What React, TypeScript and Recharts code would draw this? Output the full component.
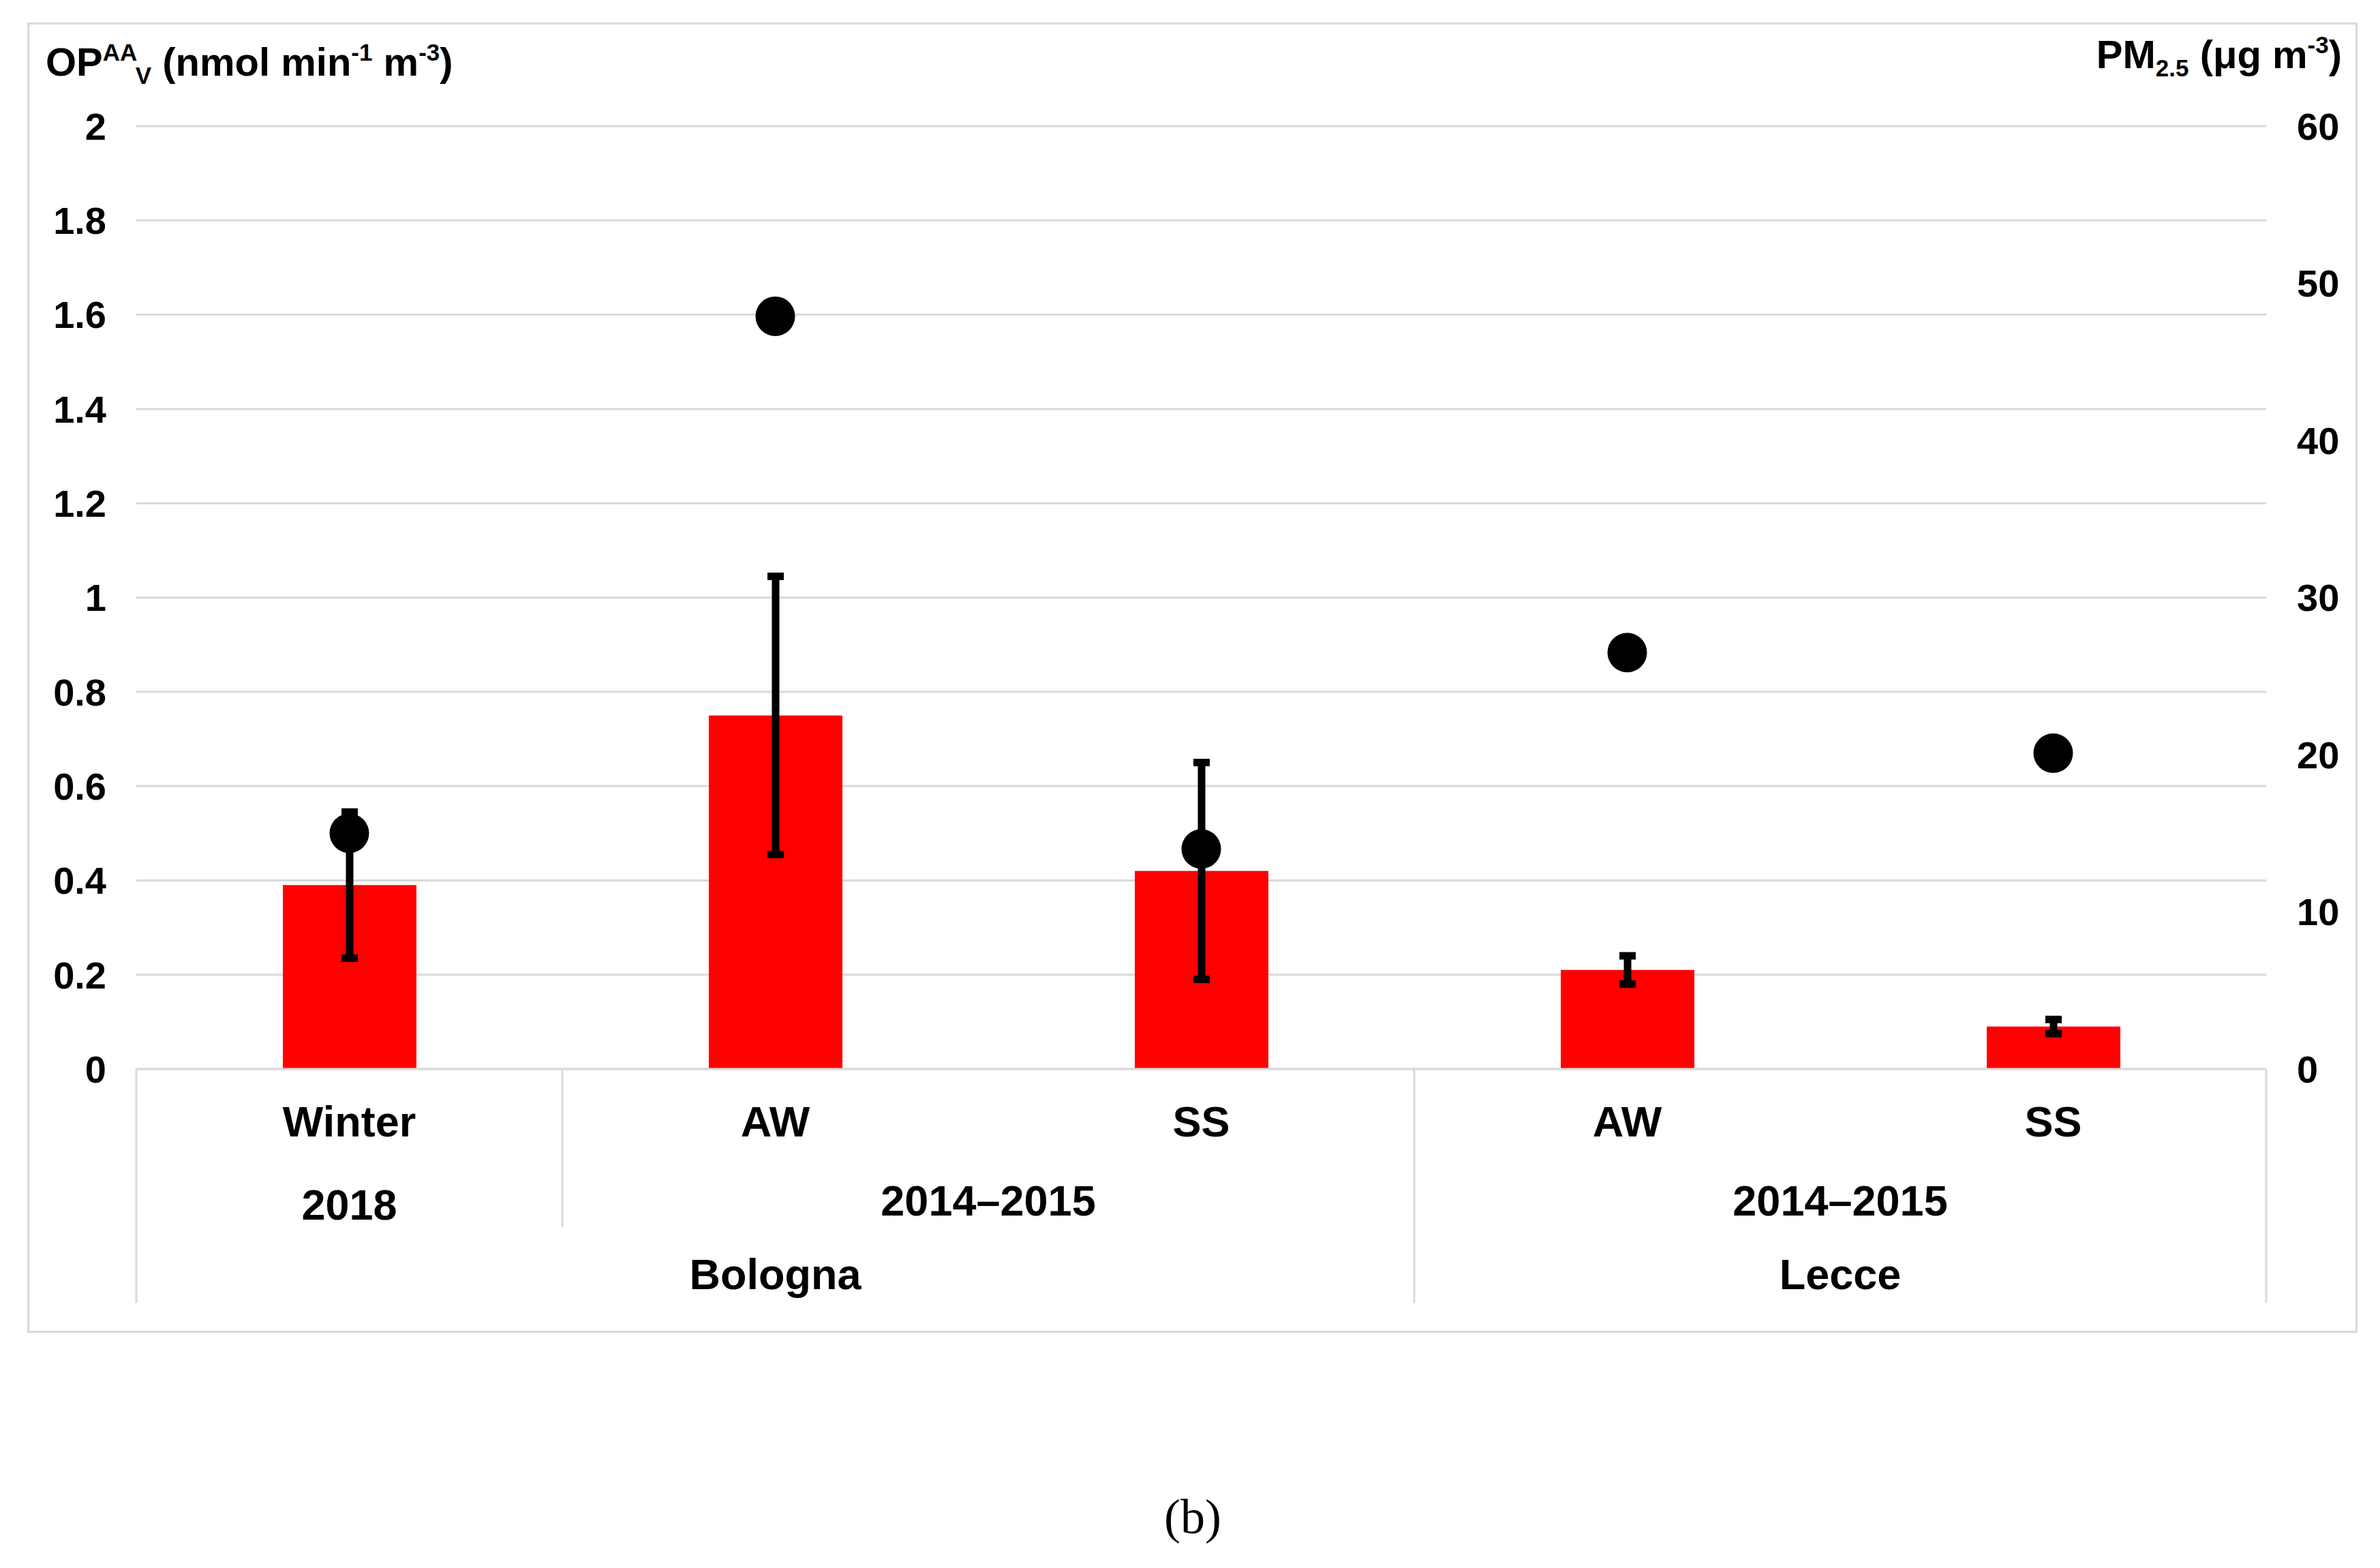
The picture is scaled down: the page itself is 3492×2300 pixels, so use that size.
import React from 'react';
import { ComposedChart, Bar, Line, ErrorBar, XAxis, YAxis, CartesianGrid } from 'recharts';

const seasons = ['Winter', 'AW', 'SS', 'AW', 'SS'];
const periods = ['2018', '2014–2015', '2014–2015', '2014–2015', '2014–2015'];
const cities = ['Bologna', 'Bologna', 'Bologna', 'Lecce', 'Lecce'];
const opMean = [0.39, 0.75, 0.42, 0.21, 0.09];
const opSd = [0.155, 0.295, 0.23, 0.03, 0.015];
const pm25 = [15.0, 47.9, 14.0, 26.5, 20.1];
const leftTicks = [0, 0.2, 0.4, 0.6, 0.8, 1, 1.2, 1.4, 1.6, 1.8, 2];
const rightTicks = [0, 10, 20, 30, 40, 50, 60];

const data = seasons.map((s, i) => ({
    season: s,
    period: periods[i],
    city: cities[i],
    op: opMean[i],
    opErr: opSd[i],
    pm: pm25[i],
}));

const W = 3492;
const H = 2300;
const MARGIN = { top: 185, right: 17, bottom: 382, left: 50 };
const Y_AXIS_W = 150;
const X_AXIS_H = 350;
const PLOT_W = W - MARGIN.left - MARGIN.right - 2 * Y_AXIS_W;
const BAND = PLOT_W / seasons.length;

const FONT = '"Liberation Sans", Arial, Helvetica, sans-serif';
const GRID = '#d9d9d9';

const groupSpan = (keys: string[], i: number) => {
    let n = 1;
    while (i + n < keys.length && keys[i + n] === keys[i]) n++;
    return n;
};

const periodKeys = cities.map((c, i) => c + '|' + periods[i]);

const MultiTick = (props: any) => {
    const { x, y, index } = props;
    const i = index;
    const left = x - BAND / 2;
    const right = x + BAND / 2;
    const textProps = { fontFamily: FONT, fontWeight: 700, fontSize: 63, fill: '#000', textAnchor: 'middle' as const };
    const items: React.ReactNode[] = [];

    items.push(<text key="s" x={x} y={y + 99} {...textProps}>{seasons[i]}</text>);

    const newPeriod = i === 0 || periodKeys[i] !== periodKeys[i - 1];
    if (newPeriod) {
        const span = groupSpan(periodKeys, i);
        const dy = span === 1 ? 221 : 215;
        items.push(
            <text key="p" x={x + ((span - 1) * BAND) / 2} y={y + dy} {...textProps}>{periods[i]}</text>
        );
    }
    const newCity = i === 0 || cities[i] !== cities[i - 1];
    if (newCity) {
        const span = groupSpan(cities, i);
        items.push(
            <text key="c" x={x + ((span - 1) * BAND) / 2} y={y + 323} {...textProps}>{cities[i]}</text>
        );
    }
    if (newCity) {
        items.push(<line key="l" x1={left} x2={left} y1={y} y2={y + 343} stroke={GRID} strokeWidth={3} />);
    } else if (newPeriod) {
        items.push(<line key="l" x1={left} x2={left} y1={y} y2={y + 232} stroke={GRID} strokeWidth={3} />);
    }
    if (i === seasons.length - 1) {
        items.push(<line key="r" x1={right} x2={right} y1={y} y2={y + 343} stroke={GRID} strokeWidth={3} />);
    }
    return <g>{items}</g>;
};

const tickStyle = { fontSize: 56, fontWeight: 700, fill: '#000', fontFamily: FONT };

export default function App() {
    return (
        <div style={{ position: 'relative', width: W, height: H, background: '#fff' }}>
            <style>{`body{margin:0;}`}</style>
            <div
                style={{
                    position: 'absolute',
                    left: 40,
                    top: 33,
                    width: 3419,
                    height: 1922,
                    border: `3px solid ${GRID}`,
                    boxSizing: 'border-box',
                }}
            />
            <div style={{ position: 'absolute', left: 0, top: 0 }}>
                <ComposedChart width={W} height={H} data={data} margin={MARGIN} style={{ fontFamily: FONT }}>
                    <CartesianGrid yAxisId="left" vertical={false} stroke={GRID} strokeWidth={3} />
                    <XAxis
                        dataKey="season"
                        type="category"
                        height={X_AXIS_H}
                        interval={0}
                        tickLine={false}
                        tickSize={0}
                        tickMargin={0}
                        axisLine={{ stroke: GRID, strokeWidth: 3 }}
                        tick={<MultiTick />}
                    />
                    <YAxis
                        yAxisId="left"
                        orientation="left"
                        width={Y_AXIS_W}
                        domain={[0, 2]}
                        ticks={leftTicks}
                        interval={0}
                        axisLine={false}
                        tickLine={false}
                        tickSize={0}
                        tickMargin={44}
                        tick={tickStyle}
                    />
                    <YAxis
                        yAxisId="right"
                        orientation="right"
                        width={Y_AXIS_W}
                        domain={[0, 60]}
                        ticks={rightTicks}
                        interval={0}
                        axisLine={false}
                        tickLine={false}
                        tickSize={0}
                        tickMargin={45}
                        tick={tickStyle}
                    />
                    <Bar yAxisId="left" dataKey="op" fill="#ff0000" barSize={196} isAnimationActive={false}>
                        <ErrorBar dataKey="opErr" width={12} strokeWidth={11} stroke="#000" />
                    </Bar>
                    <Line
                        yAxisId="right"
                        dataKey="pm"
                        stroke="none"
                        dot={{ r: 29, fill: '#000', stroke: 'none' }}
                        activeDot={false}
                        legendType="none"
                        isAnimationActive={false}
                    />
                </ComposedChart>
            </div>
            <svg width={W} height={H} style={{ position: 'absolute', left: 0, top: 0, pointerEvents: 'none' }}>
                <text x={67} y={111} fontFamily={FONT} fontWeight={700} fontSize={58} fill="#000">
                    OP
                    <tspan fontSize={35} dy={-22}>AA</tspan>
                    <tspan fontSize={35} dy={34}>V</tspan>
                    <tspan fontSize={58} dy={-12}> (nmol min</tspan>
                    <tspan fontSize={35} dy={-22}>-1</tspan>
                    <tspan fontSize={58} dy={22}> m</tspan>
                    <tspan fontSize={35} dy={-22}>-3</tspan>
                    <tspan fontSize={58} dy={22}>)</tspan>
                </text>
                <text x={3436} y={100} textAnchor="end" fontFamily={FONT} fontWeight={700} fontSize={58} fill="#000">
                    PM
                    <tspan fontSize={35} dy={12}>2.5</tspan>
                    <tspan fontSize={58} dy={-12}> (μg m</tspan>
                    <tspan fontSize={35} dy={-22}>-3</tspan>
                    <tspan fontSize={58} dy={22}>)</tspan>
                </text>
                <text x={1750} y={2249} textAnchor="middle" fontFamily='"Liberation Serif", "Times New Roman", serif' fontSize={72} fill="#000">
                    (b)
                </text>
            </svg>
        </div>
    );
}
